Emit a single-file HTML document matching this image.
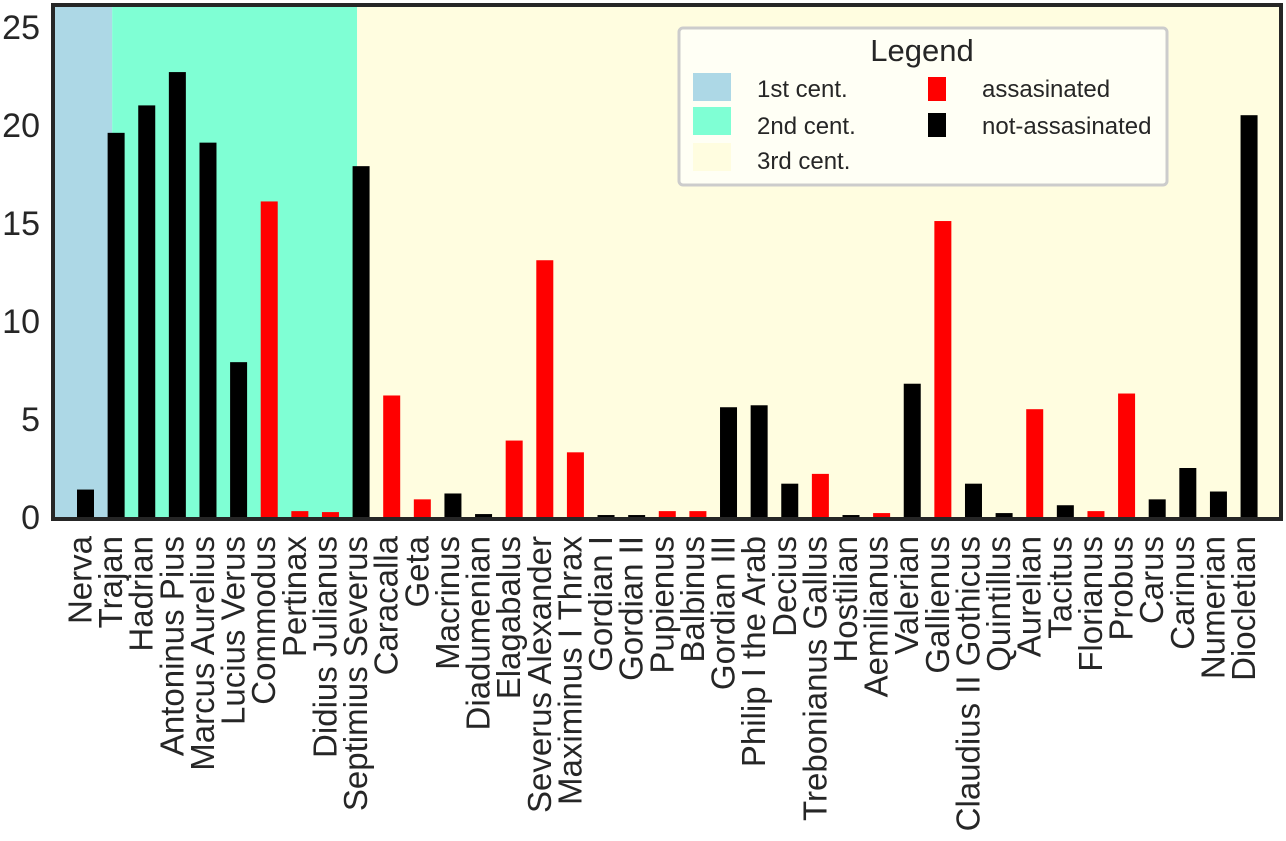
<!DOCTYPE html>
<html><head><meta charset="utf-8"><style>
body{margin:0;background:#fff;font-family:"Liberation Sans",sans-serif;}
</style></head><body>
<svg id="chart" width="1286" height="836" xmlns="http://www.w3.org/2000/svg" font-family="Liberation Sans, sans-serif">
<g id="bg"></g><g id="bars"></g>
<rect x="53" y="5" width="1228" height="514" fill="none" stroke="#262626" stroke-width="4"/>
<g id="yticks"></g><g id="xticks"></g>
<g>
<rect x="679" y="28" width="488" height="157" rx="4" fill="#fffff8" fill-opacity="0.85" stroke="#cccccc" stroke-width="3"/>
<text x="922" y="61" font-size="31" text-anchor="middle" fill="#262626">Legend</text>
<rect x="693" y="73" width="38" height="28" fill="#add8e6"/>
<text x="757" y="97" font-size="24" fill="#262626">1st cent.</text>
<rect x="693" y="107" width="38" height="28" fill="#7fffd4"/>
<text x="757" y="134" font-size="24" fill="#262626">2nd cent.</text>
<rect x="693" y="143" width="38" height="28" fill="#fffde0"/>
<text x="757" y="169" font-size="24" fill="#262626">3rd cent.</text>
<rect x="928" y="77" width="18" height="24" fill="#ff0000"/>
<text x="982" y="97" font-size="24" fill="#262626">assasinated</text>
<rect x="928" y="113" width="18" height="24" fill="#000"/>
<text x="982" y="134" font-size="24" fill="#262626">not-assasinated</text>
</g>
</svg>
<script>
const names=["Nerva","Trajan","Hadrian","Antoninus Pius","Marcus Aurelius","Lucius Verus","Commodus","Pertinax","Didius Julianus","Septimius Severus","Caracalla","Geta","Macrinus","Diadumenian","Elagabalus","Severus Alexander","Maximinus I Thrax","Gordian I","Gordian II","Pupienus","Balbinus","Gordian III","Philip I the Arab","Decius","Trebonianus Gallus","Hostilian","Aemilianus","Valerian","Gallienus","Claudius II Gothicus","Quintillus","Aurelian","Tacitus","Florianus","Probus","Carus","Carinus","Numerian","Diocletian"];
const reignYears=[1.4,19.6,21,22.7,19.1,7.9,16.1,0.3,0.25,17.9,6.2,0.9,1.2,0.15,3.9,13.1,3.3,0.1,0.1,0.3,0.3,5.6,5.7,1.7,2.2,0.1,0.2,6.8,15.1,1.7,0.2,5.5,0.6,0.3,6.3,0.9,2.5,1.3,20.5];
const assassinated=[0,0,0,0,0,0,1,1,1,0,1,1,0,0,1,1,1,0,0,1,1,0,0,0,1,0,1,0,1,0,0,1,0,1,1,0,0,0,0];
const yTicks=[0,5,10,15,20,25];
const centuryBounds=[[-1.1,0.87,"#add8e6","1st"],[0.87,8.87,"#7fffd4","2nd"],[8.87,39,"#fffde0","3rd"]];
const NS="http://www.w3.org/2000/svg";
const X0=53,X1=1281,Y0=517,YT=5;
const xs=i=>85.5+i*30.62;
const ys=v=>Y0-v*19.6;
function mk(tag,attrs,parent){const e=document.createElementNS(NS,tag);for(const k in attrs)e.setAttribute(k,attrs[k]);document.getElementById(parent).appendChild(e);return e;}
centuryBounds.forEach(b=>{
 const l=Math.max(X0,xs(b[0])),r=Math.min(X1,xs(b[1]));
 const e=mk("rect",{x:l,y:YT,width:r-l,height:519-YT,fill:b[2]},"bg");
 
 
});
names.forEach((n,i)=>{
 const v=reignYears[i];
 const e=mk("rect",{x:xs(i)-8.5,y:ys(v),width:17,height:Y0-ys(v),fill:assassinated[i]?"#ff0000":"#000"},"bars");
 
 
 const t=mk("text",{transform:`translate(${xs(i)+6},536) rotate(-90)`,"text-anchor":"end","font-size":"33",fill:"#262626"},"xticks");
 t.textContent=n;
 
 
});
yTicks.forEach(v=>{
 const t=mk("text",{x:40,y:ys(v)+12,"text-anchor":"end","font-size":"34",fill:"#262626"},"yticks");
 t.textContent=v;
 
 
});
</script>
</body></html>
